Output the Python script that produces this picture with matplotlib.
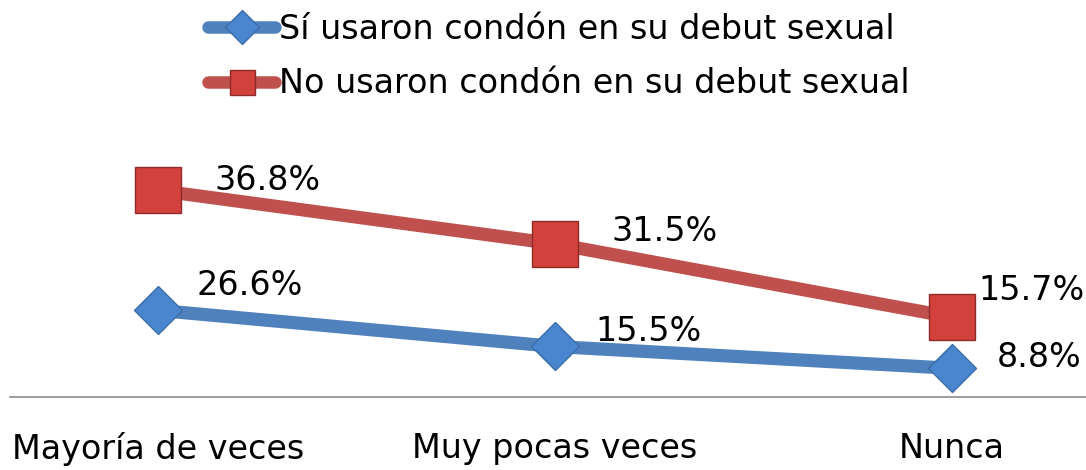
import matplotlib.pyplot as plt
from matplotlib.lines import Line2D
import numpy as np

plt.rcParams['font.family'] = ['DejaVu Sans']

# ---------------------------------- Data ----------------------------------
categories = ['Mayoría de veces', 'Muy pocas veces', 'Nunca']
si_condon = [26.6, 15.5, 8.8]
no_condon = [36.8, 31.5, 15.7]
series_names = ['Sí usaron condón en su debut sexual',
                'No usaron condón en su debut sexual']

# stacked line chart: the red series sits on top of the blue one
x = np.arange(len(categories))
si_arr = np.array(si_condon)
no_stacked = si_arr + np.array(no_condon)

blue_line = '#4F81BD'
blue_mark = '#4A86CF'
red_line = '#C0504D'
red_mark = '#D2413C'

fig = plt.figure(figsize=(10.86, 4.70), dpi=100)
ax = fig.add_axes([10 / 1086, 73 / 470, 1076 / 1086, 247 / 470])

ax.plot(x, si_arr, color=blue_line, lw=9.5, solid_capstyle='round', zorder=2)
ax.plot(x, si_arr, ls='none', marker='D', ms=24, mfc=blue_mark,
        mec='#3A6EA8', mew=1, zorder=3)
ax.plot(x, no_stacked, color=red_line, lw=9.5, solid_capstyle='round', zorder=2)
ax.plot(x, no_stacked, ls='none', marker='s', ms=33, mfc=red_mark,
        mec='#8E2A27', mew=1, zorder=3)

# data labels (offsets in points)
si_off = [(66, 18), (67, 11), (63, 8)]
no_off = [(79, 7), (79, 9), (57, 19)]
for i in x:
    ax.annotate(f'{si_condon[i]}%', (x[i], si_arr[i]), xytext=si_off[i],
                textcoords='offset points', ha='center', va='center',
                fontsize=24, color='black')
    ax.annotate(f'{no_condon[i]}%', (x[i], no_stacked[i]), xytext=no_off[i],
                textcoords='offset points', ha='center', va='center',
                fontsize=24, color='black')

ax.set_xlim(-148 / 397, 928 / 397)
ax.set_ylim(0, 75.8)
ax.set_xticks(x)
ax.set_xticklabels(categories, fontsize=24)
ax.tick_params(axis='x', length=0, pad=25)
ax.set_yticks([])
for s in ['top', 'right', 'left']:
    ax.spines[s].set_visible(False)
ax.spines['bottom'].set_color('#8C8C8C')
ax.spines['bottom'].set_linewidth(1.2)

# legend
handles = [
    Line2D([], [], color=blue_line, lw=9, marker='D', ms=17, mfc=blue_mark,
           mec='#3A6EA8', solid_capstyle='round'),
    Line2D([], [], color=red_line, lw=9, marker='s', ms=18, mfc=red_mark,
           mec='#8E2A27', solid_capstyle='round'),
]
fig.legend(handles, series_names, loc='upper left',
           bbox_to_anchor=(190 / 1086, 1.012), frameon=False, fontsize=24,
           handlelength=2.0, handletextpad=0.12, labelspacing=0.65,
           borderaxespad=0.15)

fig.savefig('out.png', dpi=100)
